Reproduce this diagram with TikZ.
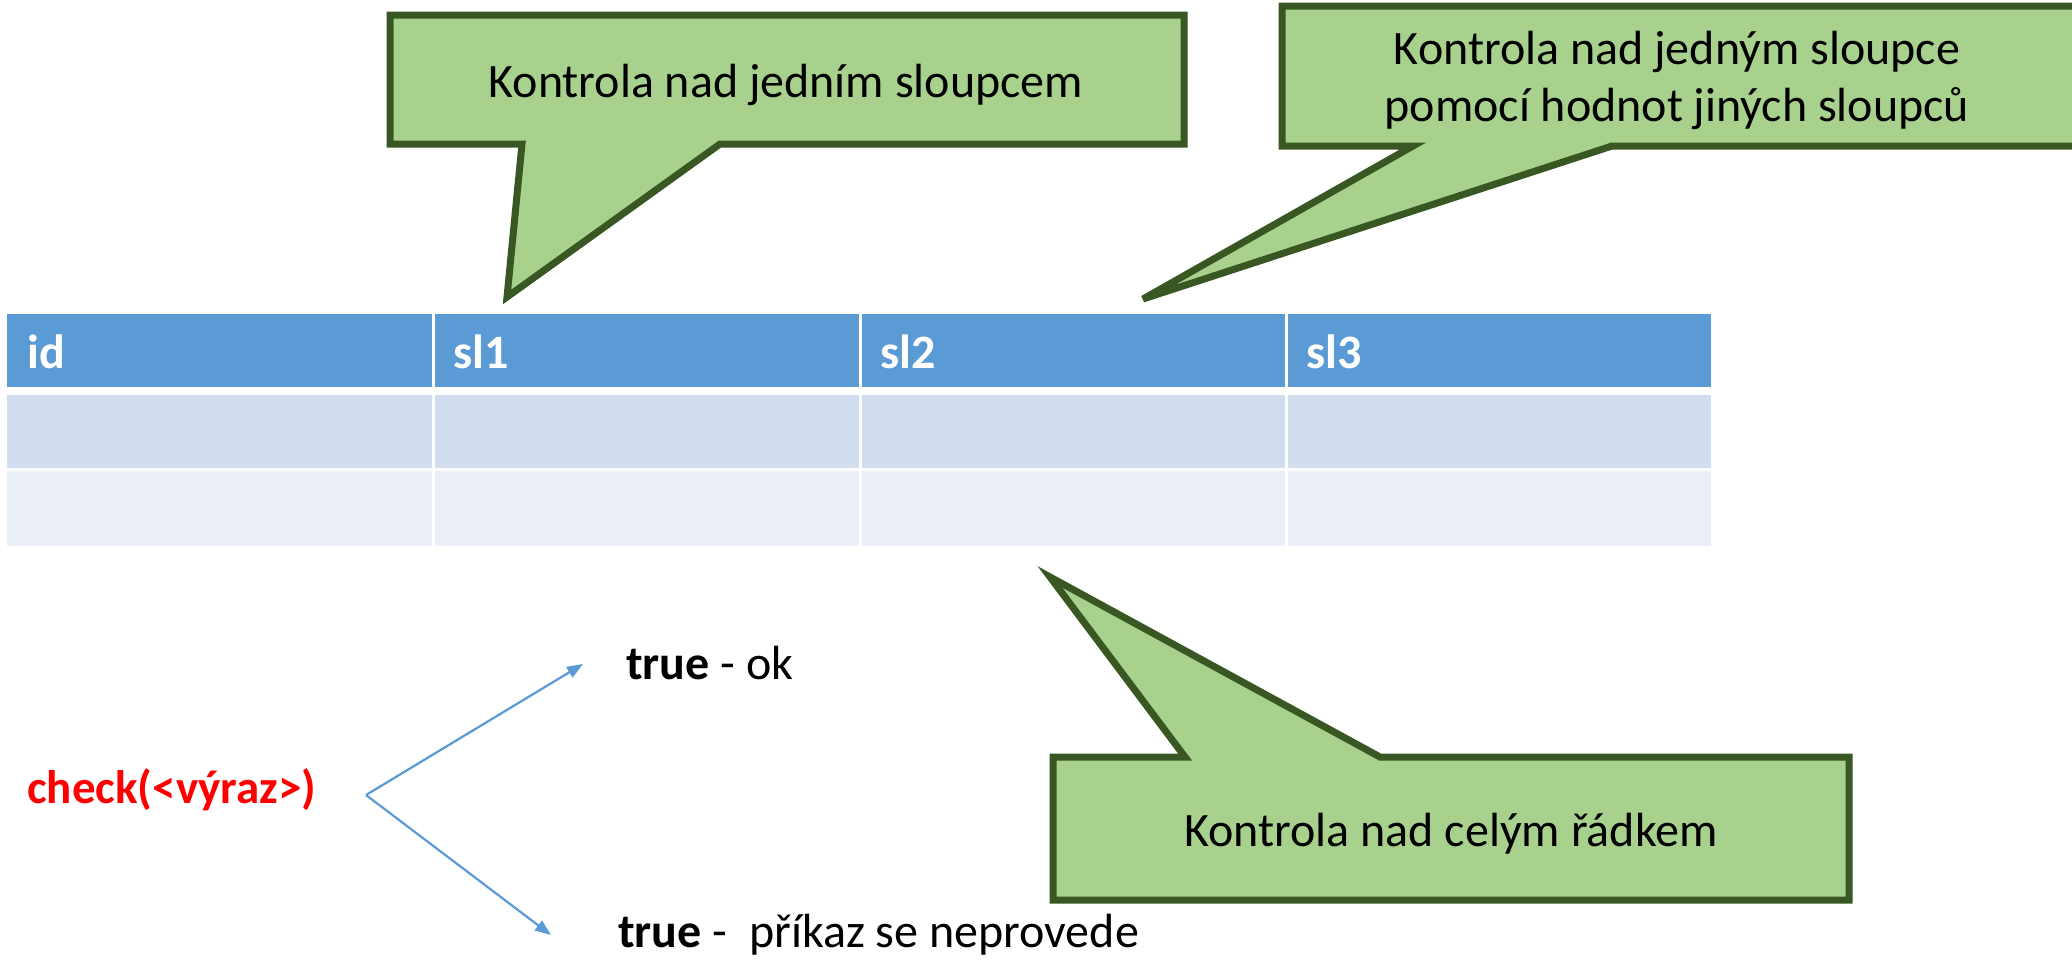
\documentclass[tikz,border=0pt]{standalone}
\usepackage{fontspec}
\setmainfont{Carlito}
\usetikzlibrary{arrows.meta}
\definecolor{hdrblue}{HTML}{5B9BD5}
\definecolor{rowa}{HTML}{D2DEEF}
\definecolor{rowb}{HTML}{EAEFF7}
\definecolor{callfill}{HTML}{A9D18E}
\definecolor{callline}{HTML}{385723}
\begin{document}
\begin{tikzpicture}[x=1pt,y=-1pt,
  callout/.style={fill=callfill,draw=callline,line width=7pt},
  calltext/.style={inner sep=0pt,anchor=base,font=\fontsize{48}{57}\selectfont},
  hdrtext/.style={inner sep=0pt,anchor=base west,text=white,font=\fontsize{48}{58}\selectfont\bfseries},
  plaintext/.style={inner sep=0pt,anchor=base west,font=\fontsize{48}{58}\selectfont},
  arr/.style={draw=hdrblue,line width=2.2pt,-{Triangle[length=16pt,width=12pt]}}
]
\clip (0,0) rectangle (2072,959);
\fill[white] (0,0) rectangle (2072,959);

% table: header row and two data rows
\foreach \xa/\xb in {7/432,435/859,862/1285,1288/1711}{
  \fill[hdrblue] (\xa,314) rectangle (\xb,387);
  \fill[rowa] (\xa,395) rectangle (\xb,468);
  \fill[rowb] (\xa,471) rectangle (\xb,546);
}
\node[hdrtext] (hid)  at (27,368)   {id};
\node[hdrtext] (hsl1) at (453,368)  {sl1};
\node[hdrtext] (hsl2) at (880,368)  {sl2};
\node[hdrtext] (hsl3) at (1306,368) {sl3};

% callout: single column
\draw[callout] (390,15) -- (1184,15) -- (1184,144) -- (720,144) -- (507,297)
  -- (522,144) -- (390,144) -- cycle;
\node[calltext] (c1) at (786,97) {Kontrola nad jedním sloupcem};

% callout: column checked against other columns
\draw[callout] (1282,6) -- (2110,6) -- (2110,146) -- (1612,146) -- (1143,299)
  -- (1413,146) -- (1282,146) -- cycle;
\node[calltext] (c2a) at (1677,64)  {Kontrola nad jedným sloupce};
\node[calltext] (c2b) at (1677,121) {pomocí hodnot jiných sloupců};

% callout: whole row
\draw[callout] (1053,757) -- (1185,757) -- (1050,577) -- (1380,757)
  -- (1849,757) -- (1849,900) -- (1053,900) -- cycle;
\node[calltext] (c3) at (1451,846) {Kontrola nad celým řádkem};

% check expression and its outcomes
\node[plaintext,text=red,font=\fontsize{47}{58}\selectfont\bfseries] (chk) at (27,803) {check(<výraz>)};
\node[plaintext] (ok) at (626,679) {\textbf{true} - ok};
\node[plaintext] (no) at (618,947) {\textbf{true} -\ \ příkaz se neprovede};
\coordinate (fork) at (366,795);
\coordinate (oktip) at (583,664);
\coordinate (notip) at (551,935);
\draw[arr] (fork) -- (oktip);
\draw[arr] (fork) -- (notip);
\end{tikzpicture}
\end{document}
